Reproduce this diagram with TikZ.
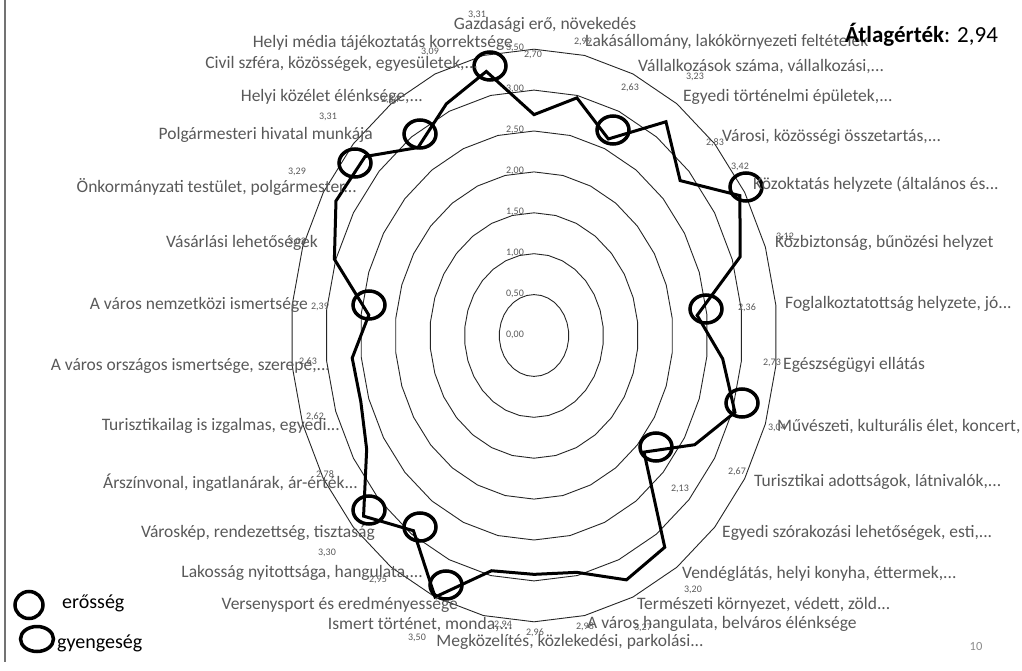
\documentclass[tikz,border=0pt]{standalone}
\usepackage{fontspec}
\setmainfont{Carlito}
\definecolor{lbl}{HTML}{595959}
\definecolor{pageno}{HTML}{8C8C8C}
\begin{document}
\begin{tikzpicture}[x=1pt,y=-1pt,
  ring/.style={draw=black!85, line width=0.9pt},
  series/.style={draw=black, line width=3pt, line join=miter},
  hilite/.style={draw=black, line width=3.5pt},
  cat/.style={text=lbl, font=\fontsize{17.5}{20}\selectfont, inner sep=0pt},
  val/.style={text=lbl, font=\fontsize{10}{12}\selectfont, inner sep=0pt},
  legend/.style={text=black, font=\fontsize{20}{24}\selectfont, inner sep=0pt, anchor=west},
]
\path[use as bounding box, fill=white] (0,0) rectangle (1022,671);

% left frame line of the slide
\draw[black!55, line width=1.2pt] (5,0) -- (5,662);

% concentric 30-sided grid rings, 0.5 ... 3.5
\foreach \r in {0.5,1,...,3.5}{
  \draw[ring] plot[samples at={0,12,...,348}, variable=\a]
    ({534+69.5*\r*sin(\a)},{335.5-81.8*\r*cos(\a)}) -- cycle;
}
% value scale labels
\foreach \r/\t in {{0/0,00}, {0.5/0,50}, {1/1,00}, {1.5/1,50}, {2/2,00}, {2.5/2,50}, {3/3,00}, {3.5/3,50}}{
  \node[val] at (515,{335.5-81.8*\r-1}) {\t};
}

% data points, one per category (clockwise from the top)
\foreach \v [count=\k from 0] in {2.70,2.97,2.63,3.23,2.83,3.42,3.12,2.36,2.73,3.04,
                                  2.67,2.13,3.20,3.27,2.96,2.92,2.94,3.50,2.95,3.30,
                                  2.78,2.62,2.63,2.39,3.02,3.29,3.27,2.84,3.10,3.30}{
  \coordinate (v\k) at ({534+69.5*\v*sin(12*\k)},{335.5-81.8*\v*cos(12*\k)});
}
\draw[series] (v0) \foreach \k in {1,...,29}{ -- (v\k)} -- cycle;

% strengths / weaknesses
\foreach \x/\y in {490/66, 420/134, 355/163, 369/305, 613/130, 746/187,
                   706/309, 742/403, 656/447, 369/510, 420/527, 446/585}{
  \draw[hilite] (\x,\y) ellipse[x radius=16, y radius=14];
}

% data labels
\foreach \x/\y/\t [count=\i] in {{533/55/2,70}, {583/42/2,99}, {630/88/2,63}, {695/77/3,23},
    {715/143/2,83}, {740/167/3,42}, {785/237/3,12}, {747/308/2,36}, {772/363/2,73}, {777/428/3,04},
    {737/472/2,67}, {680/489/2,13}, {693/590/3,20}, {643/628/3,27}, {585/627/2,98}, {535/633/2,96},
    {503/625/2,94}, {417/638/3,50}, {378/580/2,95}, {327/553/3,30}, {325/475/2,78}, {315/417/2,62},
    {308/362/2,63}, {320/307/2,39}, {297/242/3,02}, {297/172/3,29}, {328/117/3,31}, {390/100/2,84},
    {430/52/3,09}, {477/15/3,31}}{
  \node[val] (d\i) at (\x,\y) {\t};
}

% category labels
\node[cat] (c0) at (545,25) {Gazdasági erő, növekedés};
\node[cat, anchor=west] (c1) at (585,42) {Lakásállomány, lakókörnyezeti feltételek};
\node[cat, anchor=west] (c2) at (638,67) {Vállalkozások száma, vállalkozási,...};
\node[cat, anchor=west] (c3) at (683,97) {Egyedi történelmi épületek,...};
\node[cat, anchor=west] (c4) at (722,137) {Városi, közösségi összetartás,...};
\node[cat, anchor=west] (c5) at (753,185) {Közoktatás helyzete (általános és...};
\node[cat, anchor=west] (c6) at (775,243) {Közbiztonság, bűnözési helyzet};
\node[cat, anchor=west] (c7) at (785,304) {Foglalkoztatottság helyzete, jó...};
\node[cat, anchor=west] (c8) at (783,365) {Egészségügyi ellátás};
\node[cat, anchor=west] (c9) at (777,427) {Művészeti, kulturális élet, koncert,};
\node[cat, anchor=west] (c10) at (754,482) {Turisztikai adottságok, látnivalók,...};
\node[cat, anchor=west] (c11) at (722,533) {Egyedi szórakozási lehetőségek, esti,...};
\node[cat, anchor=west] (c12) at (682,574) {Vendéglátás, helyi konyha, éttermek,...};
\node[cat, anchor=west] (c13) at (637,605) {Természeti környezet, védett, zöld...};
\node[cat, anchor=west] (c14) at (587,624) {A város hangulata, belváros élénksége};
\node[cat] (c15) at (570,642) {Megközelítés, közlekedési, parkolási...};
\node[cat, anchor=east] (c16) at (513,625) {Ismert történet, monda,...};
\node[cat, anchor=east] (c17) at (458,605) {Versenysport és eredményessége};
\node[cat, anchor=east] (c18) at (423,573) {Lakosság nyitottsága, hangulata,...};
\node[cat, anchor=east] (c19) at (375,533) {Városkép, rendezettség, tisztaság};
\node[cat, anchor=east] (c20) at (358,483) {Árszínvonal, ingatlanárak, ár-érték...};
\node[cat, anchor=east] (c21) at (340,426) {Turisztikailag is izgalmas, egyedi...};
\node[cat, anchor=east] (c22) at (330,366) {A város országos ismertsége, szerepe,...};
\node[cat, anchor=east] (c23) at (308,305) {A város nemzetközi ismertsége};
\node[cat, anchor=east] (c24) at (318,243) {Vásárlási lehetőségek};
\node[cat, anchor=east] (c25) at (357,187) {Önkormányzati testület, polgármester...};
\node[cat, anchor=east] (c26) at (373,135) {Polgármesteri hivatal munkája};
\node[cat, anchor=east] (c27) at (423,97) {Helyi közélet élénksége,...};
\node[cat, anchor=east] (c28) at (478,64) {Civil szféra, közösségek, egyesületek,...};
\node[cat, anchor=east] (c29) at (513,43) {Helyi média tájékoztatás korrektsége};

% average
\node[text=black, font=\fontsize{23}{27}\selectfont, inner sep=0pt, anchor=west] (avg)
  at (845,35) {\textbf{Átlagérték}: 2,94};

% legend
\draw[hilite] (29,605) ellipse[x radius=14, y radius=13.5];
\node[legend] (l1) at (62,603) {erősség};
\draw[hilite] (37,639) ellipse[x radius=16.5, y radius=12.5];
\node[legend] (l2) at (57,643) {gyengeség};

% page number
\node[text=pageno, font=\fontsize{12.5}{15}\selectfont, inner sep=0pt] (pg) at (976,646) {10};
\end{tikzpicture}
\end{document}
